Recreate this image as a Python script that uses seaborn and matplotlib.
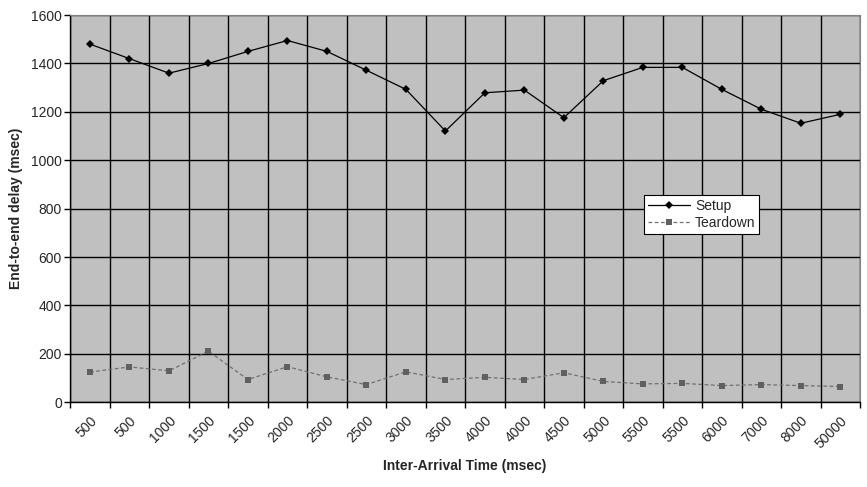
import numpy as np
import pandas as pd
import seaborn as sns
import matplotlib.pyplot as plt

# x categories (repeated labels are really separate runs)
arrival_labels = ['500', '500', '1000', '1500', '1500', '2000', '2500', '2500', '3000', '3500',
                  '4000', '4000', '4500', '5000', '5500', '5500', '6000', '7000', '8000', '50000']
setup_delay = [1480, 1420, 1360, 1400, 1450, 1495, 1450, 1372, 1293, 1121,
               1279, 1290, 1176, 1329, 1384, 1384, 1293, 1211, 1153, 1190]
teardown_delay = [125, 146, 130, 211, 94, 147, 105, 73, 126, 94,
                  103, 94, 122, 86, 76, 78, 69, 73, 69, 65]

pos = np.arange(len(arrival_labels))
df = pd.DataFrame({'pos': pos, 'Setup': setup_delay, 'Teardown': teardown_delay})

sns.set_style('white')
plt.rcParams['font.family'] = ['Liberation Sans', 'DejaVu Sans']
fs = 10

fig, ax = plt.subplots(figsize=(8.67, 4.87), dpi=100)
fig.subplots_adjust(left=0.081, right=0.992, top=0.969, bottom=0.174)
ax.set_facecolor('#c0c0c0')

sns.lineplot(data=df, x='pos', y='Setup', ax=ax, color='black', lw=0.9,
             marker='D', markersize=4, markeredgewidth=0, label='Setup')
sns.lineplot(data=df, x='pos', y='Teardown', ax=ax, color='#707070', lw=0.9,
             linestyle=(0, (3, 2)), marker='s', markersize=4.5, markeredgewidth=0,
             markerfacecolor='#606060', label='Teardown')

ax.set_xlim(-0.5, len(arrival_labels) - 0.5)
ax.set_ylim(0, 1600)
ax.set_yticks(range(0, 1601, 200))

# labels centred in categories, grid/ticks on the category boundaries
ax.set_xticks(pos)
ax.set_xticklabels(arrival_labels, rotation=45, ha='right', rotation_mode='anchor', fontsize=fs)
ax.set_xticks(np.arange(-0.5, len(arrival_labels)), minor=True)
ax.tick_params(axis='x', which='major', length=0, pad=8)
ax.tick_params(axis='x', which='minor', length=4, width=1, color='black', direction='out')
ax.tick_params(axis='y', length=4, width=1, color='black', direction='out', labelsize=fs, pad=2)
ax.xaxis.set_ticks_position('bottom')
ax.yaxis.set_ticks_position('left')

ax.grid(True, which='minor', axis='x', color='black', lw=1)
ax.grid(True, which='major', axis='y', color='black', lw=1)
ax.set_axisbelow(True)

for side in ['left', 'bottom']:
    ax.spines[side].set_color('black')
    ax.spines[side].set_linewidth(1)
for side in ['top', 'right']:
    ax.spines[side].set_color('#808080')
    ax.spines[side].set_linewidth(0.8)

ax.set_xlabel('Inter-Arrival Time (msec)', fontsize=fs, fontweight='bold', labelpad=6)
ax.set_ylabel('End-to-end delay (msec)', fontsize=fs, fontweight='bold', labelpad=6)

leg = ax.legend(loc='upper left', bbox_to_anchor=(0.727, 0.535), frameon=True, fancybox=False,
                edgecolor='black', facecolor='white', framealpha=1, fontsize=fs,
                borderpad=0.25, labelspacing=0.25, handlelength=3, handletextpad=0.4,
                borderaxespad=0)
leg.get_frame().set_linewidth(0.8)

plt.savefig('out.png', dpi=100)
